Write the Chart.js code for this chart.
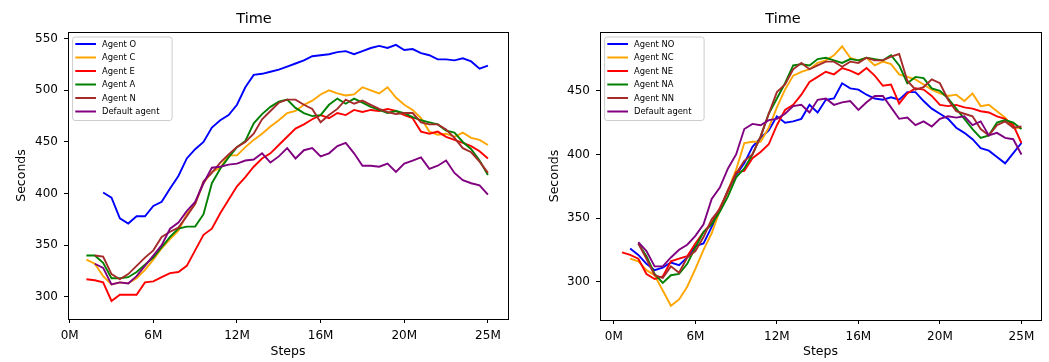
<!DOCTYPE html>
<html>
<head>
<meta charset="utf-8">
<script src="https://cdn.jsdelivr.net/npm/chart.js@4.4.1/dist/chart.umd.min.js"></script>
<style>
  html, body { margin: 0; padding: 0; background: #fff; }
  #wrap { position: relative; width: 1049px; height: 362px; }
  canvas { position: absolute; top: 0; }
  #left { left: 0; }
  #right { left: 525px; }
</style>
</head>
<body>
<div id="wrap">
  <canvas id="left" width="525" height="362"></canvas>
  <canvas id="right" width="524" height="362"></canvas>
</div>
<script>
// x positions are in tick units: 0 = "0M" ... 5 = "25M"
const xTickLabels = ['0M', '6M', '12M', '16M', '20M', '25M'];
const xTicks = [0, 1, 2, 3, 4, 5];

const stepsLeft = [0.2, 0.3, 0.4, 0.5, 0.6, 0.7, 0.8, 0.9, 1.0, 1.1, 1.2, 1.3, 1.4, 1.5, 1.6, 1.7,
  1.8, 1.9, 2.0, 2.1, 2.2, 2.3, 2.4, 2.5, 2.6, 2.7, 2.8, 2.9, 3.0, 3.1, 3.2, 3.3, 3.4, 3.5,
  3.6, 3.7, 3.8, 3.9, 4.0, 4.1, 4.2, 4.3, 4.4, 4.5, 4.6, 4.7, 4.8, 4.9, 5.0];
const stepsRight = [0.1, 0.2, 0.3, 0.4, 0.5, 0.6, 0.7, 0.8, 0.9, 1.0, 1.1, 1.2, 1.3, 1.4, 1.5, 1.6, 1.7,
  1.8, 1.9, 2.0, 2.1, 2.2, 2.3, 2.4, 2.5, 2.6, 2.7, 2.8, 2.9, 3.0, 3.1, 3.2, 3.3, 3.4, 3.5,
  3.6, 3.7, 3.8, 3.9, 4.0, 4.1, 4.2, 4.3, 4.4, 4.5, 4.6, 4.7, 4.8, 4.9, 5.0];

// left panel
const agentO = [null,null,401,396,376,371,378,378,388,392, 405,417,434,443,450,464,471,476,486,503,
  515,516,518,520,523,526,529,533,534,535, 537,538,535,538,541,543,541,544,539,540,
  536,534,530,530,529,531,528,521,524];
const agentC = [336,332,320,312,314,313,318,326,336,347, 356,364,380,390,410,421,425,437,437,445,
  452,458,465,471,478,480,486,490,496,500, 497,495,496,503,500,497,503,493,486,481,
  473,460,457,458,455,459,454,452,447];
const agentE = [317,316,314,296,302,302,302,314,315,319, 323,324,330,345,360,366,381,394,407,416,
  426,434,439,447,455,463,467,472,476,473, 478,476,481,479,481,480,482,480,476,473,
  460,458,460,455,452,449,446,441,434];
const agentA = [340,340,333,318,318,319,324,331,338,348, 358,366,368,368,380,410,424,435,445,451,
  468,477,484,489,491,483,478,475,476,486, 492,487,492,488,484,481,478,480,478,474,
  471,469,467,461,459,450,443,432,418];
const agentN = [null,340,339,322,317,322,330,338,345,358, 363,367,378,390,412,420,430,438,445,450,
  458,472,480,488,491,491,486,482,469,476, 482,491,487,490,486,482,479,477,478,478,
  469,467,467,462,454,444,440,431,420];
const defaultLeft = [null,332,328,312,314,313,320,330,340,350, 366,372,383,392,410,425,426,428,429,432,
  433,439,430,436,444,434,442,444,436,439, 446,449,439,427,427,426,429,421,429,432,
  435,424,427,432,420,413,410,408,399];

// right panel
const agentNO = [null,326,321,314,309,311,315,313,319,328, 330,343,356,372,384,393,406,413,419,430,
  425,426,428,439,433,443,444,456,452,451, 447,444,443,445,443,449,449,442,436,432,
  428,421,417,412,405,403,398,393,401,409];
const agentNC = [null,318,316,309,305,293,281,286,296,310, 325,338,356,372,388,409,410,410,421,437,
  451,462,465,467,472,474,478,485,476,474, 476,470,473,471,463,461,459,455,451,448,
  446,447,442,448,438,439,434,429,421,421];
const agentNE = [323,321,318,306,302,304,316,318,320,330, 339,346,358,371,386,387,397,402,408,423,
  435,439,447,457,461,465,463,468,466,463, 468,462,454,455,440,448,452,451,446,439,
  438,439,437,436,434,433,430,428,423,409];
const agentNA = [null,null,330,320,306,299,305,306,314,327, 339,345,355,367,382,389,400,414,432,444,
  456,470,471,470,475,476,474,472,475,474, 476,475,474,478,470,456,461,460,452,450,
  444,436,428,420,413,415,425,427,425,420];
const agentNN = [null,null,330,318,305,303,312,307,319,324, 335,349,357,372,385,395,400,414,432,449,
  455,467,472,467,470,473,473,469,473,472, 476,474,474,477,479,458,451,453,459,456,
  443,434,432,430,420,415,423,426,421,422];
const defaultRight = [null,null,331,324,312,312,319,325,329,336, 345,365,374,389,400,420,424,423,427,428,
  432,438,439,433,443,444,439,441,442,435, 441,446,446,437,428,429,423,426,422,428,
  430,429,430,423,426,415,417,413,412,400];

const namesLeft = ['Agent O', 'Agent C', 'Agent E', 'Agent A', 'Agent N', 'Default agent'];
const namesRight = ['Agent NO', 'Agent NC', 'Agent NE', 'Agent NA', 'Agent NN', 'Default agent'];
const colors = ['#0000ff', '#ffa500', '#ff0000', '#008000', '#a52a2a', '#800080'];

const yTicksLeft = [300, 350, 400, 450, 500, 550];
const yTicksRight = [300, 350, 400, 450];

const FONT = "'DejaVu Sans', sans-serif";
Chart.defaults.font.family = FONT;
Chart.defaults.color = '#000';

// box around the plot area
const framePlugin = {
  id: 'frame',
  afterDraw(chart) {
    const { ctx, chartArea: a } = chart;
    ctx.save();
    ctx.strokeStyle = '#000';
    ctx.lineWidth = 1;
    ctx.strokeRect(Math.round(a.left) + 0.5, Math.round(a.top) + 0.5,
      Math.round(a.right - a.left), Math.round(a.bottom - a.top));
    ctx.restore();
  }
};

// matplotlib style legend in the upper left corner
const boxLegend = {
  id: 'boxLegend',
  afterDraw(chart) {
    const { ctx, chartArea: a } = chart;
    const sets = chart.data.datasets;
    const x0 = a.left + 4.6, y0 = a.top + 5, w = 99.5, h = 83.5;
    ctx.save();
    ctx.fillStyle = 'rgba(255,255,255,0.8)';
    ctx.strokeStyle = '#cccccc';
    ctx.lineWidth = 1;
    ctx.beginPath();
    if (ctx.roundRect) ctx.roundRect(x0, y0, w, h, 2.5); else ctx.rect(x0, y0, w, h);
    ctx.fill();
    ctx.stroke();
    ctx.font = '8.4px ' + FONT;
    ctx.textBaseline = 'middle';
    ctx.textAlign = 'left';
    sets.forEach((ds, i) => {
      const y = y0 + 7 + i * 13.5;
      ctx.strokeStyle = ds.borderColor;
      ctx.lineWidth = 2;
      ctx.beginPath();
      ctx.moveTo(a.left + 7.3, y);
      ctx.lineTo(a.left + 28, y);
      ctx.stroke();
      ctx.fillStyle = '#000';
      ctx.fillText(ds.label, a.left + 34, y + 0.5);
    });
    ctx.restore();
  }
};

function makeChart(id, steps, series, names, yTicks, yMin, yMax, xMin, yWidth, xHeight, padRight, yTitlePad) {
  const datasets = series.map((vals, i) => ({
    label: names[i],
    data: steps.map((x, j) => ({ x: x, y: vals[j] })),
    borderColor: colors[i],
    backgroundColor: colors[i],
    borderWidth: 1.9,
    pointRadius: 0,
    tension: 0,
    order: series.length - 1 - i
  }));
  return new Chart(document.getElementById(id), {
    type: 'line',
    data: { datasets },
    options: {
      responsive: false,
      animation: false,
      layout: { padding: { left: 0, right: padRight, top: 0, bottom: 0 } },
      plugins: {
        legend: { display: false },
        tooltip: { enabled: false },
        title: {
          display: true,
          text: 'Time',
          font: { size: 14.5, weight: 'normal', lineHeight: 1.2 },
          color: '#000',
          padding: { top: 10.8, bottom: 3.8 }
        }
      },
      scales: {
        x: {
          type: 'linear',
          min: xMin,
          max: 5.24,
          afterBuildTicks: s => { s.ticks = xTicks.map(v => ({ value: v })); },
          afterFit: s => { s.height = xHeight; },
          border: { display: false },
          grid: { drawOnChartArea: false, drawTicks: true, tickLength: 4, color: '#000' },
          ticks: {
            font: { size: 12 },
            color: '#000',
            padding: 5.5,
            maxRotation: 0,
            callback: (v) => xTickLabels[xTicks.indexOf(v)]
          },
          title: {
            display: true,
            text: 'Steps',
            font: { size: 12.5, lineHeight: 1.2 },
            color: '#000',
            padding: { top: 0, bottom: 2.5 }
          }
        },
        y: {
          type: 'linear',
          min: yMin,
          max: yMax,
          afterBuildTicks: s => { s.ticks = yTicks.map(v => ({ value: v })); },
          afterFit: s => { s.width = yWidth; },
          border: { display: false },
          grid: { drawOnChartArea: false, drawTicks: true, tickLength: 4, color: '#000' },
          ticks: { font: { size: 12 }, color: '#000', padding: 6 },
          title: {
            display: true,
            text: 'Seconds',
            font: { size: 12.5, lineHeight: 1.2 },
            color: '#000',
            padding: { top: yTitlePad, bottom: 0 }
          }
        }
      }
    },
    plugins: [framePlugin, boxLegend]
  });
}

makeChart('left', stepsLeft,
  [agentO, agentC, agentE, agentA, agentN, defaultLeft], namesLeft,
  yTicksLeft, 278.5, 556.5, -0.02, 68, 43, 17, 14.2);

makeChart('right', stepsRight,
  [agentNO, agentNC, agentNE, agentNA, agentNN, defaultRight], namesRight,
  yTicksRight, 269.8, 496.3, -0.17, 75, 42, 8, 21.8);
</script>
</body>
</html>
